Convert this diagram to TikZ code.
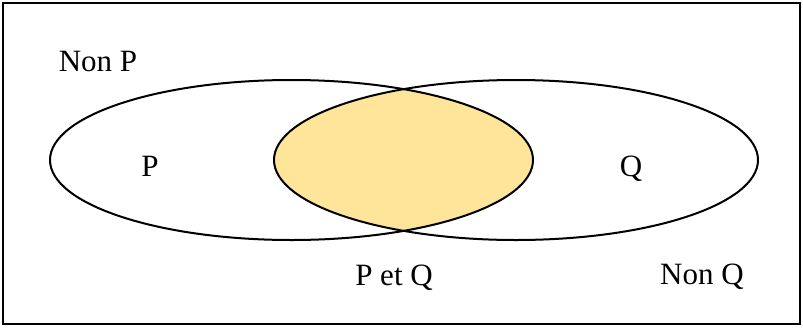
\documentclass[tikz,border=0pt]{standalone}
\usepackage{fontspec}
\setmainfont{Liberation Serif}
\definecolor{vennfill}{RGB}{255,229,153}
\begin{document}
\begin{tikzpicture}[x=1pt,y=-1pt,
  lbl/.style={font=\fontsize{31}{37}\selectfont, inner sep=0pt, anchor=base},
  venn/.style={line width=2pt},
  frame/.style={line width=2.5pt}]
\useasboundingbox (0,0) rectangle (803,327);
\begin{scope}
  \clip (291.5,160) ellipse [x radius=241.5, y radius=80];
  \fill[vennfill] (516,160) ellipse [x radius=242, y radius=80];
\end{scope}
\draw[venn] (291.5,160) ellipse [x radius=241.5, y radius=80];
\draw[venn] (516,160) ellipse [x radius=242, y radius=80];
\draw[frame] (3,3) rectangle (800,324);
\node[lbl] (nonp) at (98,71) {Non P};
\node[lbl] (p) at (150,176) {P};
\node[lbl] (q) at (631,176) {Q};
\node[lbl] (pq) at (394,285) {P et Q};
\node[lbl] (nonq) at (702,284) {Non Q};
\end{tikzpicture}
\end{document}
